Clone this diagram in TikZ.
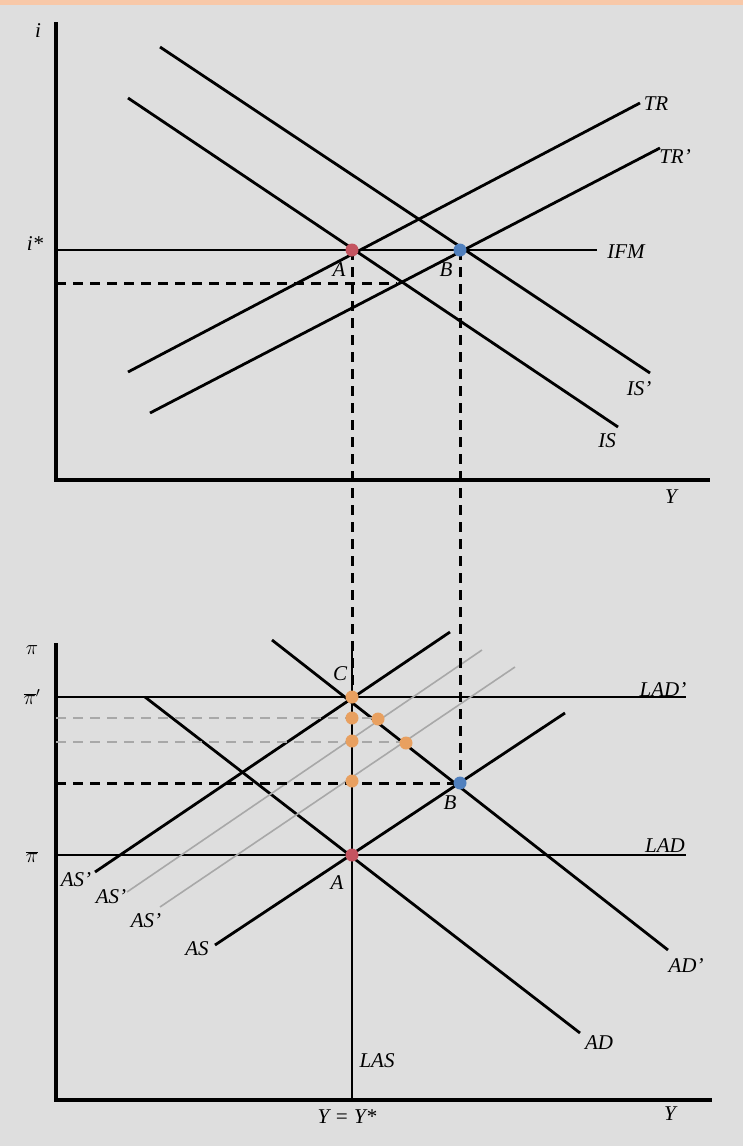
\documentclass[tikz,border=0pt]{standalone}
\usepackage{fontspec}
\setmainfont{Liberation Serif}
\usetikzlibrary{positioning}
\definecolor{bg}{RGB}{222,222,222}
\definecolor{peach}{RGB}{248,200,168}
\definecolor{ptred}{RGB}{196,84,96}
\definecolor{ptblue}{RGB}{80,128,190}
\definecolor{ptorange}{RGB}{232,160,96}
\definecolor{ghost}{RGB}{168,168,168}

\tikzset{
  axis/.style={line width=3.2pt},
  curve/.style={line width=2.8pt},
  shifted/.style={line width=1.6pt, ghost},
  guide/.style={line width=3pt, dash pattern=on 10pt off 7pt},
  softguide/.style={line width=1.8pt, ghost, dash pattern=on 10pt off 7pt},
  lbl/.style={font=\itshape\fontsize{21}{21}\selectfont, inner sep=1pt},
  dot/.style={circle, fill=#1, minimum size=13pt, inner sep=0pt},
}

\begin{document}
\begin{tikzpicture}[x=1pt,y=-1pt]
\fill[bg] (0,0) rectangle (743,1146);
\fill[peach] (0,0) rectangle (743,5);

% upper panel: i against Y
\draw[axis] (56,22) -- (56,480) -- (710,480);
\node[lbl] (ilbl) at (38,31) {i};
\node[lbl] (istar) at (35,244) {i*};
\node[lbl] (ylbl) at (671,497) {Y};

\draw[curve] (56,250) -- (597,250);
\node[lbl] (ifm) at (626,252) {IFM};
\draw[curve] (128,98) -- (618,427);
\node[lbl] (is) at (607,441) {IS};
\draw[curve] (160,47) -- (650,373);
\node[lbl] (isp) at (639,389) {IS'};
\draw[curve] (128,372) -- (640,103);
\node[lbl] (tr) at (656,104) {TR};
\draw[curve] (150,413) -- (660,148);
\node[lbl] (trp) at (675,157) {TR'};
\draw[guide] (56,283) -- (397,283);

% lower panel: pi against Y
\draw[axis] (56,643) -- (56,1100) -- (712,1100);
\node[lbl] (pilbl) at (32,650) {$\pi$};
\node[lbl] (pibarp) at (32,697) {$\overline{\pi}'$};
\node[lbl] (pibar) at (32,857) {$\overline{\pi}$};
\node[lbl] (ylbl2) at (670,1114) {Y};
\node[lbl] (yeq) at (347,1117) {Y = Y*};

\draw[curve] (352,643) -- (352,1100);
\node[lbl] (las) at (377,1061) {LAS};
\draw[curve] (56,697) -- (686,697);
\node[lbl] (ladp) at (663,690) {LAD'};
\draw[curve] (56,855) -- (686,855);
\node[lbl] (lad) at (665,846) {LAD};
\draw[curve] (145,697) -- (580,1033);
\node[lbl] (ad) at (599,1043) {AD};
\draw[curve] (272,640) -- (668,950);
\node[lbl] (adp) at (686,966) {AD'};

\draw[curve] (95,872) -- (450,632);
\draw[shifted] (127,892) -- (482,650);
\draw[shifted] (160,907) -- (515,667);
\draw[curve] (215,945) -- (565,713);
\foreach \x/\y in {76/880, 111/897, 146/921} {
  \node[lbl] at (\x,\y) {AS'};
}
\node[lbl] (as) at (197,949) {AS};

% guides between the panels
\draw[softguide] (56,718) -- (378,718);
\draw[softguide] (56,742) -- (406,742);
\draw[guide] (56,783) -- (460,783);
\coordinate (Atopc) at (352,250);
\coordinate (Btopc) at (460,250);
\coordinate (Cc) at (352,697);
\coordinate (Bbotc) at (460,783);
\draw[guide] (Atopc) -- (Cc);
\draw[guide] (Btopc) -- (Bbotc);

\node[dot=ptred] (Atop) at (Atopc) {};
\node[dot=ptblue] (Btop) at (Btopc) {};
\node[dot=ptorange] (C) at (Cc) {};
\node[dot=ptred] (Abot) at (352,855) {};
\node[dot=ptblue] (Bbot) at (Bbotc) {};
\foreach \x/\y in {352/718, 378/719, 352/741, 406/743, 352/781} {
  \node[dot=ptorange] at (\x,\y) {};
}

\node[lbl] at (339,270) {A};
\node[lbl] at (446,270) {B};
\node[lbl] at (340,674) {C};
\node[lbl] at (337,883) {A};
\node[lbl] at (450,803) {B};
\end{tikzpicture}
\end{document}
